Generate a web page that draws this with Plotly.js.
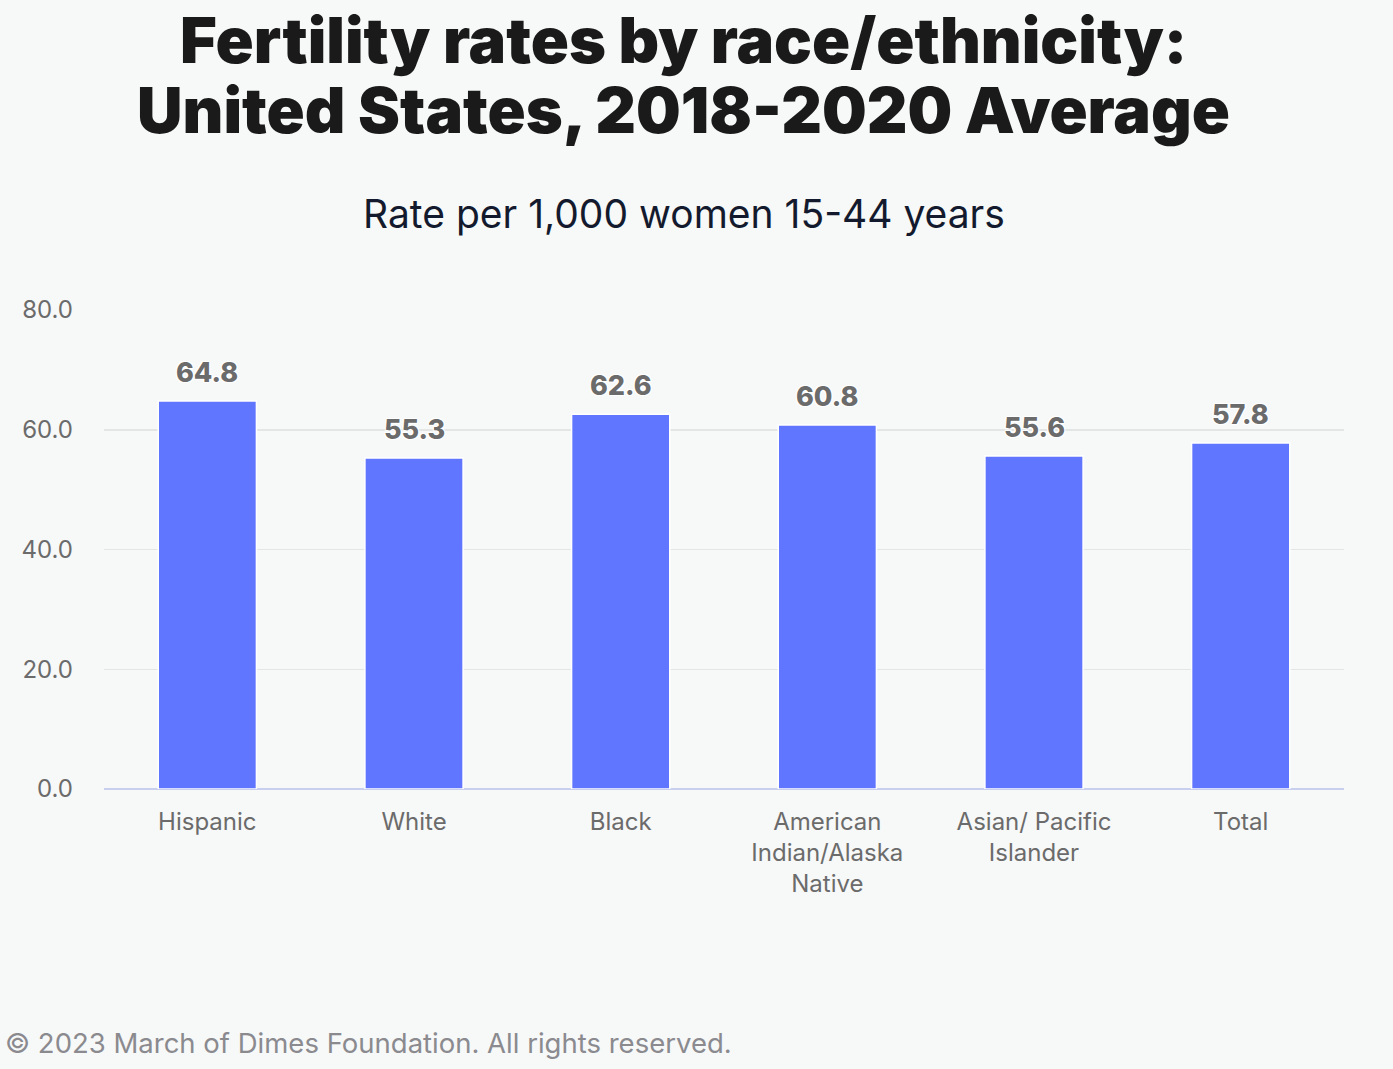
<!DOCTYPE html>
<html><head><meta charset="utf-8">
<script src="https://cdn.plot.ly/plotly-3.0.1.min.js"></script>
<style>html,body{margin:0;padding:0;background:#f7f8f8;}</style>
</head><body>
<div id="chart" style="width:1393px;height:1069px;"></div>
<script>
const categories = ["Hispanic", "White", "Black", "American<br>Indian/Alaska<br>Native", "Asian/ Pacific<br>Islander", "Total"];
const rates = [64.8, 55.3, 62.6, 60.8, 55.6, 57.8];
const tickVals = [0, 20, 40, 60, 80];
const tickText = ["0.0", "20.0", "40.0", "60.0", "80.0"];
const titleLines = ["Fertility rates by race/ethnicity:", "United States, 2018-2020 Average"];

const FONT = "Inter, Roboto, sans-serif";

const trace = {
  type: "bar",
  x: categories,
  y: rates,
  marker: {color: "#6176ff", line: {color: "#ffffff", width: 1.5}},
  width: 0.475,
  hoverinfo: "none"
};

const valueLabels = categories.map((c, i) => ({
  x: c, y: rates[i], xref: "x", yref: "y",
  text: rates[i].toFixed(1), showarrow: false,
  xanchor: "center", yanchor: "bottom", yshift: 10,
  font: {family: FONT, size: 27, color: "#6b6b6b", weight: 800,
    shadow: "1px 1px 1px #fff, -1px -1px 1px #fff, 1px -1px 1px #fff, -1px 1px 1px #fff"}
}));

const titleAnns = titleLines.map((t, i) => ({
  text: t, xref: "paper", yref: "paper", x: 0.4677, y: 1,
  xanchor: "center", yanchor: "middle", showarrow: false,
  yshift: 310 - (40 + i * 70),
  font: {family: FONT, size: 63, color: "#1a1a1a", weight: 900}
}));

const layout = {
  width: 1393, height: 1069,
  paper_bgcolor: "#f7f8f8", plot_bgcolor: "#f7f8f8",
  margin: {l: 104, r: 49, t: 310, b: 280},
  showlegend: false,
  xaxis: {
    type: "category",
    tickfont: {family: FONT, size: 24, color: "#6b6b6b"},
    showgrid: false, zeroline: false, showline: false,
    ticks: "", ticklabelstandoff: 16
  },
  yaxis: {
    range: [0, 80],
    tickvals: tickVals, ticktext: tickText,
    tickfont: {family: FONT, size: 24, color: "#6b6b6b"},
    showgrid: true, gridcolor: "#e4e6e6", gridwidth: 1.5,
    zeroline: true, zerolinecolor: "#c9d0ef", zerolinewidth: 2,
    showline: false, ticks: "", ticklabelstandoff: 30
  },
  annotations: [
    ...titleAnns,
    {text: "Rate per 1,000 women 15-44 years", xref: "paper", yref: "paper",
     x: 0.4677, y: 1, xanchor: "center", yanchor: "middle", yshift: 310 - 213, showarrow: false,
     font: {family: FONT, size: 39, color: "#141a2e"}},
    {text: "© 2023 March of Dimes Foundation. All rights reserved.", xref: "paper", yref: "paper",
     x: 0, y: 0, xanchor: "left", yanchor: "middle", showarrow: false, xshift: 3 - 104, yshift: -254,
     font: {family: FONT, size: 27.5, color: "#8a8a8f"}},
    ...valueLabels
  ]
};

Plotly.newPlot("chart", [trace], layout, {displayModeBar: false, staticPlot: true});
</script>
</body></html>
